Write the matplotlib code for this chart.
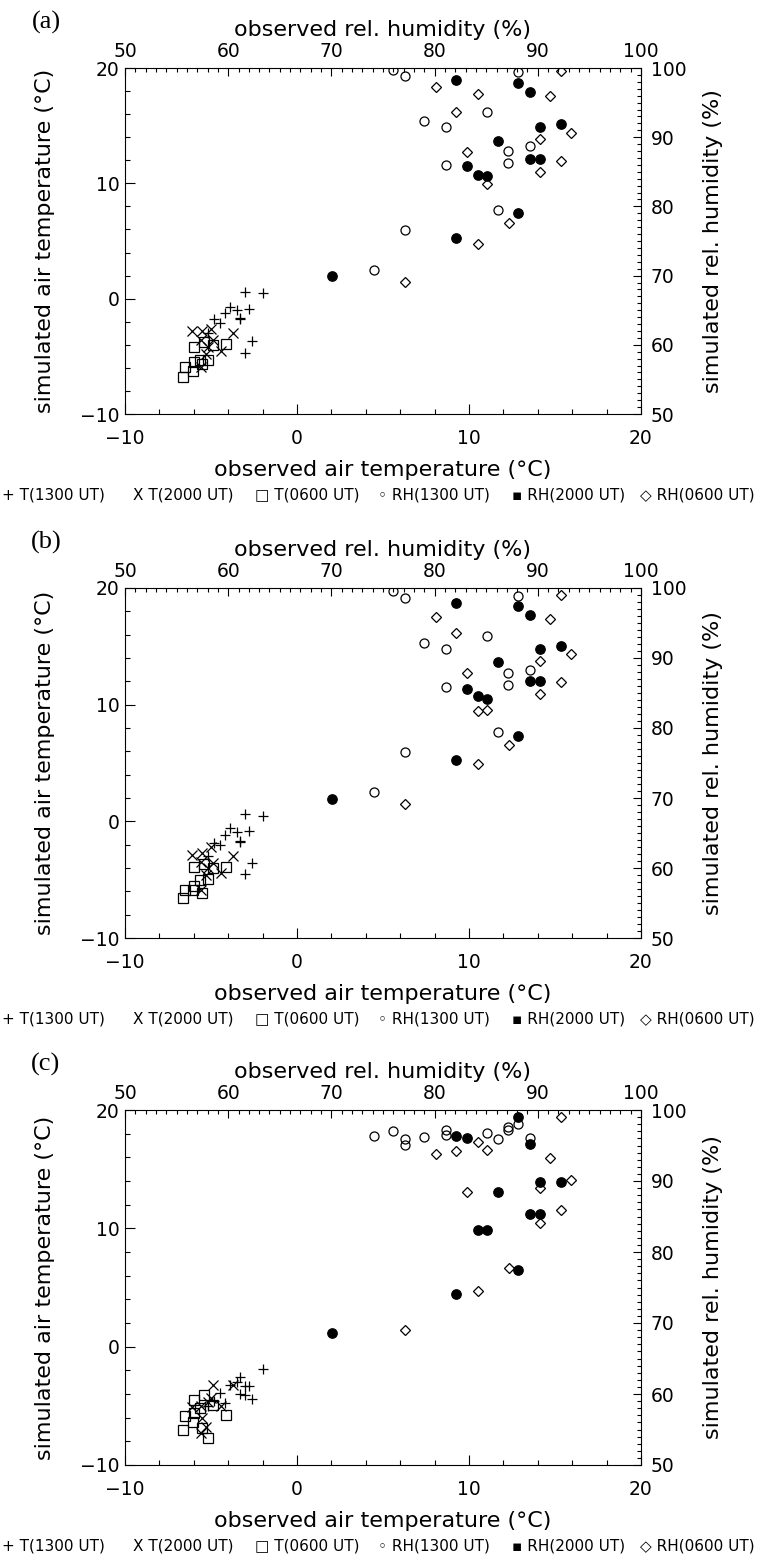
import matplotlib
matplotlib.use("Agg")
import matplotlib.pyplot as plt
from matplotlib.ticker import MultipleLocator

plt.rcParams['font.family'] = ['DejaVu Sans']
plt.rcParams['axes.unicode_minus'] = True

# ---- observed values (same stations/times in all three panels) ----
obs_t1300 = [-2.0, -2.6, -2.8, -3.0, -3.0, -3.3, -3.3, -3.5, -3.9, -4.2, -4.5, -4.8, -5.2]
obs_t2000 = [-6.1, -5.6, -5.6, -5.5, -5.3, -5.0, -4.9, -4.4, -3.7, -5.2]
obs_t0600 = [-6.65, -6.5, -6.05, -6.0, -6.0, -5.65, -5.55, -5.4, -5.15, -4.9, -4.1]
obs_rh1300 = [74.1, 76.0, 77.1, 77.1, 79.0, 81.1, 81.1, 85.1, 86.1, 87.1, 87.1, 88.1, 89.2]
obs_rh2000 = [70.1, 82.1, 82.1, 83.1, 84.2, 85.1, 86.1, 88.1, 88.1, 89.2, 89.2, 90.2, 90.2, 92.2]
obs_rh0600 = [77.1, 80.1, 82.1, 83.1, 84.2, 84.2, 85.1, 87.2, 90.2, 90.2, 91.2, 92.2, 92.2, 93.2]

# ---- simulated values, panel (a) ----
sim_t1300_a = [0.5, -3.7, -0.9, 0.55, -4.7, -1.7, -1.8, -1.0, -0.7, -1.2, -2.1, -1.8, -3.0]
sim_t2000_a = [-2.8, -3.6, -5.9, -2.8, -4.8, -2.6, -3.6, -4.5, -3.0, -4.2]
sim_t0600_a = [-6.8, -5.9, -6.3, -4.15, -5.45, -5.3, -5.7, -3.8, -5.3, -4.0, -3.9]
sim_rh1300_a = [70.8, 99.75, 98.8, 76.6, 92.4, 91.5, 86.0, 93.6, 79.5, 88.0, 86.3, 99.4, 88.7]
sim_rh2000_a = [69.9, 98.2, 75.5, 85.8, 84.6, 84.4, 89.5, 97.8, 79.0, 96.6, 86.8, 91.5, 86.8, 91.9]
sim_rh0600_a = [69.1, 97.3, 93.7, 87.9, 96.2, 74.6, 83.2, 77.6, 89.8, 84.9, 96.0, 99.5, 86.6, 90.6]

# ---- simulated values, panel (b) ----
sim_t1300_b = [0.48, -3.6, -0.83, 0.6, -4.5, -1.66, -1.8, -0.94, -0.6, -1.18, -2.03, -1.9, -3.0]
sim_t2000_b = [-2.9, -3.5, -5.9, -2.75, -4.6, -2.2, -3.6, -4.4, -3.0, -4.0]
sim_t0600_b = [-6.6, -5.85, -5.85, -3.9, -5.5, -5.05, -6.1, -3.7, -4.95, -4.0, -3.95]
sim_rh1300_b = [70.9, 99.5, 98.5, 76.5, 92.2, 91.3, 85.8, 93.2, 79.4, 87.9, 86.2, 98.9, 88.3]
sim_rh2000_b = [69.9, 97.9, 75.4, 85.6, 84.5, 84.2, 89.4, 97.4, 78.9, 96.2, 86.7, 91.3, 86.7, 91.7]
sim_rh0600_b = [69.2, 95.9, 93.5, 87.9, 82.4, 74.8, 82.6, 77.5, 89.5, 84.8, 95.6, 99.0, 86.5, 90.5]

# ---- simulated values, panel (c) ----
sim_t1300_c = [-1.9, -4.4, -3.3, -4.1, -3.3, -2.6, -4.0, -3.0, -3.25, -4.8, -3.95, -4.6, -5.0]
sim_t2000_c = [-5.1, -5.0, -7.3, -6.0, -6.8, -4.3, -3.2, -5.0, -3.2, -4.7]
sim_t0600_c = [-7.0, -5.85, -6.35, -4.5, -5.6, -5.2, -6.9, -4.1, -7.75, -4.9, -5.8]
sim_rh1300_c = [96.3, 97.0, 95.9, 95.1, 96.2, 97.2, 96.5, 96.8, 95.9, 97.6, 97.2, 98.0, 96.0]
sim_rh2000_c = [68.6, 96.3, 74.1, 96.1, 83.1, 83.1, 88.4, 99.0, 77.5, 95.2, 85.3, 89.8, 85.3, 89.8]
sim_rh0600_c = [69.0, 93.8, 94.2, 88.5, 95.5, 74.5, 94.4, 77.7, 89.0, 84.1, 93.3, 99.0, 85.9, 90.1]

panel_labels = ['(a)', '(b)', '(c)']
legend_items = ['+ T(1300 UT)', 'X T(2000 UT)', '\u25a1 T(0600 UT)',
                '\u25e6 RH(1300 UT)', '\u25aa RH(2000 UT)', '\u25c7 RH(0600 UT)']

W, H = 762, 1562
fig = plt.figure(figsize=(W / 100, H / 100), dpi=100)

L, R = 125, 641
panel_px = [(68, 414), (588, 938), (1110, 1465)]
legend_x = [2, 133, 255, 378, 512, 640]

panels = [
    (sim_t1300_a, sim_t2000_a, sim_t0600_a, sim_rh1300_a, sim_rh2000_a, sim_rh0600_a),
    (sim_t1300_b, sim_t2000_b, sim_t0600_b, sim_rh1300_b, sim_rh2000_b, sim_rh0600_b),
    (sim_t1300_c, sim_t2000_c, sim_t0600_c, sim_rh1300_c, sim_rh2000_c, sim_rh0600_c),
]

lw = 0.8
lab_fs = 16
for k, (top, bottom) in enumerate(panel_px):
    s_t13, s_t20, s_t06, s_rh13, s_rh20, s_rh06 = panels[k]
    rect = [L / W, 1 - bottom / H, (R - L) / W, (bottom - top) / H]

    def fx(px):
        return (px - L) / (R - L)

    def fy(py):
        return (bottom - py) / (bottom - top)

    # temperature axes (bottom / left)
    ax = fig.add_axes(rect)
    ax.plot(obs_t1300, s_t13, ls='none', marker='+', ms=7.5, mew=0.9, color='k')
    ax.plot(obs_t2000, s_t20, ls='none', marker='x', ms=7.5, mew=0.9, color='k')
    ax.plot(obs_t0600, s_t06, ls='none', marker='s', ms=7, mew=0.9, mfc='none', mec='k')
    ax.set_xlim(-10, 20)
    ax.set_ylim(-10, 20)
    ax.xaxis.set_major_locator(MultipleLocator(10))
    ax.xaxis.set_minor_locator(MultipleLocator(2))
    ax.yaxis.set_major_locator(MultipleLocator(10))
    ax.yaxis.set_minor_locator(MultipleLocator(2))
    ax.tick_params(which='both', direction='in', top=False, right=False,
                   labelsize=13.5, width=lw)
    ax.tick_params(which='major', length=7)
    ax.tick_params(which='minor', length=3.5)
    ax.tick_params(axis='x', pad=11)
    ax.tick_params(axis='y', pad=4)
    for sp in ax.spines.values():
        sp.set_linewidth(lw)
    ax.set_xlabel('observed air temperature (°C)', fontsize=lab_fs, va='center')
    ax.xaxis.set_label_coords(0.5, fy(bottom + 56))
    ax.set_ylabel('simulated air temperature (°C)', fontsize=lab_fs, va='center')
    ax.yaxis.set_label_coords(fx(45), 0.5)

    # humidity axes (top / right)
    ax_rh = fig.add_axes(rect, frameon=False)
    ax_rh.patch.set_visible(False)
    ax_rh.plot(obs_rh1300, s_rh13, ls='none', marker='o', ms=6.5, mew=0.9, mfc='none', mec='k')
    ax_rh.plot(obs_rh2000, s_rh20, ls='none', marker='o', ms=6.8, mew=0.9, mfc='k', mec='k')
    ax_rh.plot(obs_rh0600, s_rh06, ls='none', marker='D', ms=5, mew=0.9, mfc='none', mec='k')
    ax_rh.set_xlim(50, 100)
    ax_rh.set_ylim(50, 100)
    ax_rh.xaxis.tick_top()
    ax_rh.yaxis.tick_right()
    ax_rh.xaxis.set_major_locator(MultipleLocator(10))
    ax_rh.xaxis.set_minor_locator(MultipleLocator(1))
    ax_rh.yaxis.set_major_locator(MultipleLocator(10))
    ax_rh.yaxis.set_minor_locator(MultipleLocator(1))
    ax_rh.tick_params(which='both', direction='in', bottom=False, left=False,
                      labelbottom=False, labelleft=False, top=True, right=True,
                      labeltop=True, labelright=True, labelsize=13.5, width=lw)
    ax_rh.tick_params(which='major', length=6)
    ax_rh.tick_params(which='minor', length=3)
    ax_rh.tick_params(axis='x', pad=5)
    ax_rh.tick_params(axis='y', pad=7)
    ax_rh.xaxis.set_label_position('top')
    ax_rh.set_xlabel('observed rel. humidity (%)', fontsize=lab_fs, va='center')
    ax_rh.xaxis.set_label_coords(0.5, fy(top - 38))
    ax_rh.yaxis.set_label_position('right')
    ax_rh.set_ylabel('simulated rel. humidity (%)', fontsize=lab_fs, va='center', rotation=90)
    ax_rh.yaxis.set_label_coords(fx(713), 0.5)

    # panel letter
    fig.text(46 / W, 1 - (top - 46) / H, panel_labels[k], family='Liberation Serif',
             fontsize=19, ha='center', va='center')

    # legend line under each panel
    for x0, txt in zip(legend_x, legend_items):
        fig.text(x0 / W, 1 - (bottom + 81) / H, txt, fontsize=11,
                 ha='left', va='center')

fig.savefig('out.png', dpi=100)
